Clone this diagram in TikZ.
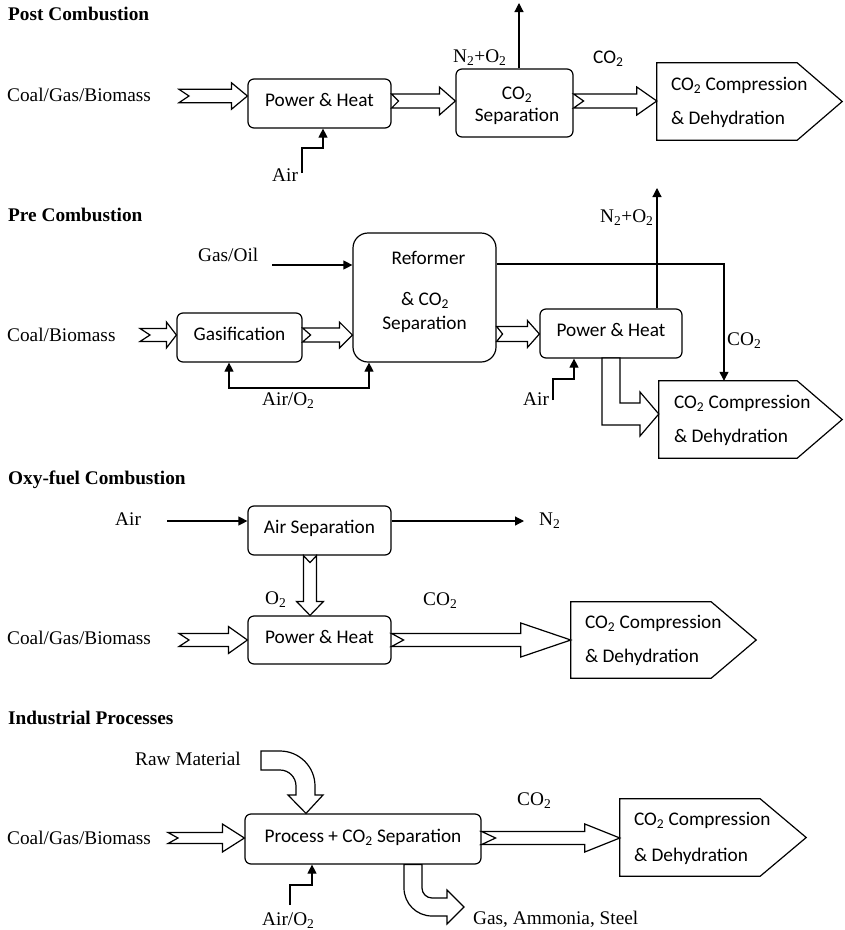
\documentclass[tikz,border=0pt]{standalone}
\usepackage{fontspec}
\setmainfont{Liberation Serif}
\newfontfamily\boxfont{Carlito}
\usetikzlibrary{calc,arrows.meta}
\newcommand\harrow[6]{%
  \draw[blk] let \p1=#1, \p2=#2 in
    (\x1,\y2+#3pt) -- (\x2-#5pt,\y2+#3pt) -- (\x2-#5pt,\y2+#4pt) -- (\x2,\y2)
    -- (\x2-#5pt,\y2-#4pt) -- (\x2-#5pt,\y2-#3pt) -- (\x1,\y2-#3pt)
    -- (\x1+#6pt,\y2) -- cycle;}
\begin{document}
\begin{tikzpicture}[x=1pt,y=-1pt,
  lbl/.style={inner sep=0pt, anchor=west, text height=13pt, text depth=0pt,
    font=\fontsize{19.3}{23}\selectfont},
  ttl/.style={lbl, font=\fontsize{19.3}{23}\selectfont\bfseries},
  bxl/.style={inner sep=0pt, anchor=west, text height=12.4pt, text depth=0pt,
    font=\boxfont\fontsize{19.3}{23}\selectfont},
  bxc/.style={bxl, anchor=center},
  box/.style={draw, line width=1.2pt, rounded corners=6pt, inner sep=0pt,
    text height=12.4pt, text depth=6pt, font=\boxfont\fontsize{19.3}{23}\selectfont},
  comp/.style={inner sep=0pt},
  blk/.style={draw, line width=1.2pt, fill=white, line join=miter},
  arr/.style={line width=1.2pt, -{Triangle[length=9pt,width=9pt]}},
  arrb/.style={line width=1.2pt, {Triangle[length=9pt,width=9pt]}-{Triangle[length=9pt,width=9pt]}},
  pent/.style={draw, line width=1.2pt, line join=miter}
]
\useasboundingbox (0,0) rectangle (845,930);

% ---------------- Post Combustion ----------------
\node[ttl] (h1) at (8,14) {Post Combustion};
\node[lbl] (l1) at (7,95) {Coal/Gas/Biomass};
\node[box, minimum width=143pt, minimum height=49pt] (ph1) at (319.5,103.5) {Power \& Heat};
\node[box, minimum width=117pt, minimum height=68pt] (sep1) at (514.5,103) {};
\node[bxc] (sep1a) at ($(sep1.center)+(2.5,-10)$) {CO\textsubscript{2}};
\node[bxc] (sep1b) at ($(sep1.center)+(2.5,12)$) {Separation};
\node[comp, minimum width=140pt, minimum height=77pt] (comp1) at (727,101.5) {};
\draw[pent] (comp1.north west) -- (comp1.north east) -- ($(comp1.east)+(45,0)$)
  -- (comp1.south east) -- (comp1.south west) -- cycle;
\node[bxl] (comp1a) at ($(comp1.west)+(14,-17.5)$) {CO\textsubscript{2} Compression};
\node[bxl] (comp1b) at ($(comp1.west)+(14,17)$) {\& Dehydration};
\node[lbl] (l2) at (272,175) {Air};
\node[lbl] (l3) at (453,56) {N\textsubscript{2}+O\textsubscript{2}};
\node[bxl] (l4) at (593,57) {CO\textsubscript{2}};

\coordinate (in1) at (179,96);
\coordinate (m1) at (0,101);
\harrow{(in1)}{(ph1.west |- in1)}{6.7}{13.3}{16}{10}
\harrow{(ph1.east |- m1)}{(sep1.west |- m1)}{7}{14}{16}{7}
\harrow{(sep1.east |- m1)}{(comp1.west |- m1)}{7}{14}{20}{10}
\coordinate (a1s) at (302,173);
\coordinate (a1x) at (323,148);
\draw[arr] (a1s) |- (a1x) -- (a1x |- ph1.south);
\coordinate (v1) at (519,3);
\draw[arr] (v1 |- sep1.north) -- (v1);

% ---------------- Pre Combustion ----------------
\node[ttl] (h2) at (8,215) {Pre Combustion};
\node[lbl] (l5) at (198,255) {Gas/Oil};
\node[lbl] (l6) at (7,335) {Coal/Biomass};
\node[box, minimum width=125pt, minimum height=49pt] (gas) at (239.5,337.5) {Gasification};
\node[box, rounded corners=15pt, minimum width=143pt, minimum height=129pt] (ref) at (424.5,297.5) {};
\node[bxc] (refa) at ($(ref.center)+(4,-39)$) {Reformer};
\node[bxc] (refb) at ($(ref.center)+(0.5,2)$) {\& CO\textsubscript{2}};
\node[bxc] (refc) at ($(ref.center)+(0,26)$) {Separation};
\node[box, minimum width=142pt, minimum height=49pt] (ph2) at (611,333.5) {Power \& Heat};
\node[comp, minimum width=138pt, minimum height=77pt] (comp2) at (728,419.5) {};
\draw[pent] (comp2.north west) -- (comp2.north east) -- ($(comp2.east)+(45,0)$)
  -- (comp2.south east) -- (comp2.south west) -- cycle;
\node[bxl] (comp2a) at ($(comp2.west)+(15,-17.5)$) {CO\textsubscript{2} Compression};
\node[bxl] (comp2b) at ($(comp2.west)+(15,17)$) {\& Dehydration};
\node[lbl] (l7) at (262,399) {Air/O\textsubscript{2}};
\node[lbl] (l8) at (600,216) {N\textsubscript{2}+O\textsubscript{2}};
\node[lbl] (l9) at (727,339) {CO\textsubscript{2}};
\node[lbl] (l10) at (523,399) {Air};

\coordinate (in2) at (140,335);
\coordinate (m2) at (0,334);
\harrow{(in2)}{(gas.west |- in2)}{6.5}{13}{10}{10}
\harrow{(gas.east |- in2)}{(ref.west |- in2)}{7}{13}{13}{8}
\harrow{(ref.east |- m2)}{(ph2.west |- m2)}{7.5}{13.5}{12}{6}
\coordinate (go) at (272,265);
\draw[arr] (go) -- (go -| ref.west);
\coordinate (lp1) at (229,388);
\coordinate (lp2) at (369,388);
\draw[arrb] (lp1 |- gas.south) -- (lp1) -- (lp2) -- (lp2 |- ref.south);
\coordinate (v2) at (657,188);
\draw[arr] (v2 |- ph2.north) -- (v2);
\coordinate (c2) at (724,264);
\draw[arr] (ref.east |- c2) -- (c2) -- (c2 |- comp2.north);
\coordinate (a2s) at (553,400);
\coordinate (a2x) at (574,379);
\draw[arr] (a2s) |- (a2x) -- (a2x |- ph2.south);
\draw[blk] (602,358) -- (602,425) -- (640,425) -- (640,436) -- (comp2.west |- 0,414)
  -- (640,392) -- (640,403) -- (620,403) -- (620,358) -- cycle;

% ---------------- Oxy-fuel Combustion ----------------
\node[ttl] (h3) at (8,478) {Oxy-fuel Combustion};
\node[lbl] (l11) at (115,519) {Air};
\node[box, minimum width=143pt, minimum height=49pt] (asep) at (319.5,530.5) {Air Separation};
\node[lbl] (l12) at (539,519) {N\textsubscript{2}};
\node[lbl] (l13) at (265,598) {O\textsubscript{2}};
\node[lbl] (l14) at (7,638) {Coal/Gas/Biomass};
\node[box, minimum width=143pt, minimum height=48pt] (ph3) at (319.5,640) {Power \& Heat};
\node[lbl] (l15) at (423,599) {CO\textsubscript{2}};
\node[comp, minimum width=140pt, minimum height=76pt] (comp3) at (641,640) {};
\draw[pent] (comp3.north west) -- (comp3.north east) -- ($(comp3.east)+(45,0)$)
  -- (comp3.south east) -- (comp3.south west) -- cycle;
\node[bxl] (comp3a) at ($(comp3.west)+(14,-18)$) {CO\textsubscript{2} Compression};
\node[bxl] (comp3b) at ($(comp3.west)+(14,16.5)$) {\& Dehydration};

\coordinate (a3) at (167,521);
\draw[arr] (a3) -- (a3 -| asep.west);
\coordinate (n2e) at (524,521);
\draw[arr] (asep.east |- n2e) -- (n2e);
\coordinate (in3) at (179,640);
\harrow{(in3)}{(ph3.west |- in3)}{6.5}{13.5}{19}{10}
\harrow{(ph3.east |- in3)}{(comp3.west |- in3)}{6.5}{17}{50}{12}
\coordinate (o2x) at (310,0);
\draw[blk] let \p1=(asep.south -| o2x), \p2=(ph3.north -| o2x) in
  (\x1-6.5pt,\y1) -- (\x1-6.5pt,\y2+14pt) -- (\x1-13.5pt,\y2+14pt) -- (\x1,\y2)
  -- (\x1+13.5pt,\y2+14pt) -- (\x1+6.5pt,\y2+14pt) -- (\x1+6.5pt,\y1)
  -- (\x1,\y1-7pt) -- cycle;

% ---------------- Industrial Processes ----------------
\node[ttl] (h4) at (8,718) {Industrial Processes};
\node[lbl] (l16) at (135,759) {Raw Material};
\node[lbl] (l17) at (7,838) {Coal/Gas/Biomass};
\node[box, minimum width=236pt, minimum height=50pt] (proc) at (363,839) {Process + CO\textsubscript{2} Separation};
\node[comp, minimum width=140pt, minimum height=77pt] (comp4) at (690,837.5) {};
\draw[pent] (comp4.north west) -- (comp4.north east) -- ($(comp4.east)+(46,0)$)
  -- (comp4.south east) -- (comp4.south west) -- cycle;
\node[bxl] (comp4a) at ($(comp4.west)+(14,-18.5)$) {CO\textsubscript{2} Compression};
\node[bxl] (comp4b) at ($(comp4.west)+(14,17.5)$) {\& Dehydration};
\node[lbl] (l18) at (262,919) {Air/O\textsubscript{2}};
\node[lbl] (l19) at (517,799) {CO\textsubscript{2}};
\node[lbl] (l20) at (473,918) {Gas, Ammonia, Steel};

\coordinate (in4) at (168,838);
\harrow{(in4)}{(proc.west |- in4)}{5.5}{14}{22}{10}
\harrow{(proc.east |- in4)}{(comp4.west |- in4)}{6.5}{14}{35}{14}
\coordinate (a4s) at (290,905);
\coordinate (a4x) at (312,885);
\draw[arr] (a4s) |- (a4x) -- (a4x |- proc.south);
% raw material curved arrow
\draw[blk] (261,751) -- (280,751) .. controls (299.3,751) and (315,766.7) .. (315,786)
  -- (315,795) -- (323,795) -- (proc.north -| 306,0) -- (288,795) -- (296,795)
  -- (296,786) .. controls (296,777.2) and (288.8,770) .. (280,770) -- (261,770) -- cycle;
% product curved arrow
\draw[blk] (proc.south -| 404,0) -- (404,888) .. controls (404,903.5) and (416.5,916) .. (432,916)
  -- (447,916) -- (447,924) -- (464,907) -- (447,890) -- (447,898) -- (432,898)
  .. controls (426.5,898) and (422,893.5) .. (422,888) -- (proc.south -| 422,0) -- cycle;
\end{tikzpicture}
\end{document}
